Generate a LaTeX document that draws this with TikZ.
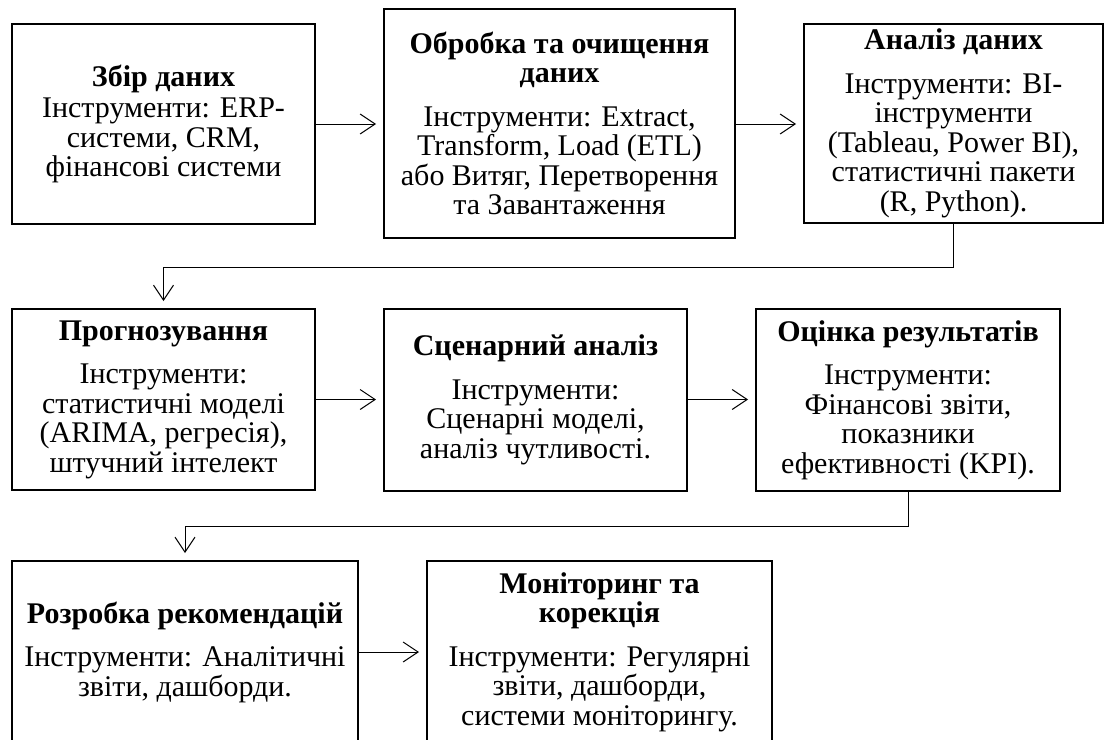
\documentclass[tikz,border=0pt]{standalone}
\usepackage{fontspec}
\setmainfont{Liberation Serif}
\usetikzlibrary{arrows.meta}

\tikzset{
  stage/.style={draw=black, line width=2pt, rectangle, align=center, inner sep=0pt,
    font=\fontsize{30}{29.5}\selectfont},
  conn/.style={draw=black, line width=1pt, shorten >=7pt,
    -{Straight Barb[length=15pt,width=20pt,line width=1pt]}},
}

\begin{document}
\begin{tikzpicture}[x=1pt,y=-1pt]
\useasboundingbox (0,0) rectangle (1105,739);
\clip (0,0) rectangle (1105,739);

% first row
\node[stage, minimum width=303pt, minimum height=200pt] (A) at (163.5,124)
  {\textbf{Збір даних}\\[2pt]Інструменти: ERP-\\системи, CRM,\\фінансові системи};
\node[stage, minimum width=351pt, minimum height=229pt] (B) at (559.5,123.5)
  {\textbf{Обробка та очищення}\\\textbf{даних}\\[14pt]Інструменти: Extract,\\Transform, Load (ETL)\\або Витяг, Перетворення\\та Завантаження};
\node[stage, minimum width=299pt, minimum height=199pt] (C) at (953.5,123.5)
  {\textbf{Аналіз даних}\\[14pt]Інструменти: BI-\\інструменти\\(Tableau, Power BI),\\статистичні пакети\\(R, Python).};

% second row
\node[stage, minimum width=303pt, minimum height=181pt] (D) at (163.5,399.5)
  {\textbf{Прогнозування}\\[14pt]Інструменти:\\статистичні моделі\\(ARIMA, регресія),\\штучний інтелект};
\node[stage, minimum width=303pt, minimum height=182pt] (E) at (535.5,400)
  {\textbf{Сценарний аналіз}\\[14pt]Інструменти:\\Сценарні моделі,\\аналіз чутливості.};
\node[stage, minimum width=304pt, minimum height=182pt] (F) at (908,400)
  {\textbf{Оцінка результатів}\\[14pt]Інструменти:\\Фінансові звіти,\\показники\\ефективності (KPI).};

% third row
\node[stage, minimum width=346pt, minimum height=182pt] (G) at (185,652)
  {\textbf{Розробка рекомендацій}\\[14pt]Інструменти: Аналітичні\\звіти, дашборди.};
\node[stage, minimum width=345pt, minimum height=182pt] (H) at (599.5,652)
  {\textbf{Моніторинг та}\\\textbf{корекція}\\[14pt]Інструменти: Регулярні\\звіти, дашборди,\\системи моніторингу.};

% connectors
\draw[conn] (A.east) -- (A.east -| B.west);
\draw[conn] (B.east |- A.east) -- (A.east -| C.west);
\draw[conn] (C.south) -- ++(0,43) -| (D.north);
\draw[conn] (D.east) -- (D.east -| E.west);
\draw[conn] (E.east |- D.east) -- (D.east -| F.west);
\draw[conn] (F.south) -- ++(0,34) -| (G.north);
\draw[conn] (G.east) -- (G.east -| H.west);
\end{tikzpicture}
\end{document}
